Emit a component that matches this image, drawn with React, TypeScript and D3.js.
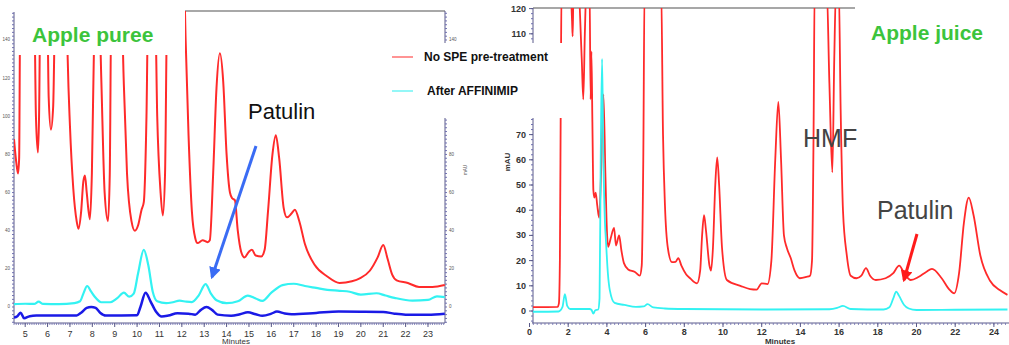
import React from "react";
import * as d3 from "d3";

type P = [number, number];

// Apple puree chromatogram (minutes, mAU)
const pureeRed: P[] = [[4.5,88],[4.6,76],[4.68,70],[4.73,78],[4.78,160],[5.4,160],[5.48,100],[5.57,81],[5.62,100],[5.68,160],[5.98,160],[6.05,110],[6.15,93],[6.25,105],[6.35,160],[6.85,160],[6.9,130],[7.0,95],[7.15,62],[7.3,45],[7.38,41],[7.5,50],[7.6,66],[7.67,69],[7.75,60],[7.89,46],[7.98,70],[8.08,140],[8.15,160],[8.3,160],[8.4,120],[8.55,60],[8.7,45],[8.78,70],[8.85,160],[9.3,160],[9.4,120],[9.55,70],[9.75,45],[9.9,40],[10.05,43],[10.2,51],[10.3,55],[10.42,100],[10.5,160],[10.8,160],[10.9,100],[11.05,60],[11.15,48],[11.25,70],[11.35,160],[12.1,170],[12.17,140],[12.3,90],[12.45,50],[12.6,36],[12.7,33.5],[12.93,35],[13.15,34],[13.25,35],[13.4,70],[13.55,115],[13.7,133],[13.85,118],[14.0,80],[14.15,60],[14.25,57],[14.37,56],[14.5,40],[14.65,29],[14.8,26],[15.0,29],[15.13,30],[15.3,27],[15.55,26.5],[15.7,30],[15.85,50],[16.05,80],[16.2,90],[16.35,78],[16.55,52],[16.7,47],[16.9,49],[17.05,51],[17.25,45],[17.5,33],[17.94,22],[18.5,16],[19.05,12.6],[19.6,13.5],[19.95,15],[20.4,19],[20.75,26],[21.0,32.5],[21.2,25],[21.4,17],[21.6,14],[22.1,12.6],[22.6,10.5],[23.2,10.5],[23.75,11.5]];
const pureeCyan: P[] = [[4.5,1.5],[5.0,1.7],[5.4,1.6],[5.6,2.8],[5.8,1.6],[6.5,1.5],[7.2,2],[7.45,3],[7.6,7],[7.77,11],[7.95,8],[8.1,5.5],[8.4,2.5],[8.8,2.5],[9.1,4.5],[9.41,7.5],[9.65,5.4],[9.85,7],[10.05,18],[10.3,30],[10.5,22],[10.7,8],[10.9,3],[11.3,2],[11.6,2.5],[11.9,3.3],[12.2,2.8],[12.45,2.6],[12.75,6],[13.06,12],[13.3,7],[13.55,3.5],[14.0,2],[14.5,3],[14.95,6],[15.3,4.5],[15.6,3.2],[16.0,7.5],[16.5,11.5],[17.0,12.2],[17.5,11],[18.0,10],[18.5,9],[19.05,8.5],[19.5,8],[20.0,6.5],[20.7,7.2],[21.1,6],[21.5,4.8],[22.3,3.3],[23.0,3.7],[23.4,5.6],[23.75,5.2]];
const pureeBlue: P[] = [[4.5,-5.6],[4.65,-4.8],[4.8,-3],[4.95,-5.9],[5.2,-4.8],[5.5,-4.5],[7.3,-4.4],[7.5,-3],[7.75,-0.5],[7.95,0],[8.15,-0.5],[8.35,-3],[8.6,-4.5],[10.0,-4.3],[10.15,0],[10.38,7.5],[10.6,3],[10.85,-2.5],[11.1,-5],[11.4,-4.5],[11.8,-3.3],[12.3,-3.5],[12.6,-4],[12.85,-1.5],[13.1,0],[13.35,-1.5],[13.6,-4],[14.2,-4.6],[14.6,-3.8],[14.95,-2.8],[15.3,-3.8],[15.6,-4.6],[16.0,-3.5],[16.25,-2.4],[16.6,-3.4],[16.9,-3.8],[18.0,-3.1],[19.0,-2.4],[20.0,-2.5],[21.0,-2.6],[21.5,-3.5],[22.0,-4],[23.0,-4],[23.75,-3.5]];

// Apple juice chromatogram (minutes, mAU)
const juiceRed: P[] = [[0.15,1.5],[1.45,1.6],[1.52,3],[1.57,20],[1.62,90],[1.66,130],[2.1,130],[2.2,115],[2.23,109],[2.27,125],[2.5,130],[2.7,100],[2.78,84],[2.86,110],[2.95,130],[3.1,130],[3.16,84],[3.2,103],[3.25,75],[3.3,48],[3.35,45],[3.42,47],[3.5,42],[3.6,37],[3.7,55],[3.82,86],[3.92,55],[4.0,32],[4.07,25.5],[4.2,29],[4.37,33],[4.47,26],[4.63,30],[4.75,24],[4.88,19],[5.1,16.5],[5.45,15.5],[5.7,14],[5.8,18],[5.88,60],[5.95,130],[6.8,130],[6.9,70],[7.0,42],[7.15,25],[7.36,19.4],[7.55,19.5],[7.69,21],[7.85,18],[8.1,14.5],[8.3,13],[8.66,11],[8.82,16],[8.92,30],[9.02,38],[9.12,32],[9.3,18],[9.38,16],[9.48,25],[9.6,50],[9.7,61],[9.8,50],[9.95,25],[10.2,12.3],[10.9,10],[11.4,8.7],[11.74,8.5],[12.0,11],[12.3,10.7],[12.5,20],[12.7,60],[12.86,83],[13.0,60],[13.15,30],[13.3,25],[13.5,21],[13.7,16],[13.97,13],[14.3,13.5],[14.5,14],[14.6,20],[14.68,70],[14.74,130],[15.35,130],[15.5,90],[15.65,55],[15.75,100],[15.85,130],[15.98,130],[16.08,80],[16.2,40],[16.4,22],[16.6,14],[16.9,13],[17.15,14],[17.39,17],[17.6,14],[17.9,12.3],[18.4,13],[18.8,15],[19.1,18],[19.4,14.5],[19.7,12.3],[20.1,13.5],[20.5,15.5],[20.8,16.7],[21.3,13],[21.7,8.5],[21.95,7],[22.2,15],[22.45,35],[22.7,45],[22.95,38],[23.3,22],[23.8,12],[24.3,8.3],[24.7,6.4]];
const juiceCyan: P[] = [[0.15,-0.3],[1.5,-0.2],[1.7,1.5],[1.83,6.7],[1.95,2],[2.1,0.8],[3.1,0.8],[3.2,0.5],[3.3,-1],[3.4,0.3],[3.55,0.6],[3.62,5],[3.68,60],[3.75,100],[3.82,60],[3.9,35],[3.95,28],[4.05,15],[4.15,8.3],[4.4,3.2],[4.9,2.4],[5.5,1.6],[5.9,1.8],[6.1,2.7],[6.4,1.4],[7,1],[8,0.8],[12,0.6],[15.5,0.7],[15.9,1.2],[16.2,2],[16.6,0.8],[18.3,0.6],[18.6,1.5],[18.8,5],[18.95,7.7],[19.1,6],[19.35,2.5],[19.6,1],[20,0.4],[22,0.5],[24.7,0.6]];

const pureeXTicks = d3.range(5, 24, 1);
const pureeYTicks = [0, 20, 40, 60, 80, 100, 120, 140];
const juiceXTicks = d3.range(0, 25, 2);
const juiceYTicks = [0, 10, 20, 30, 40, 50, 60, 70, 110, 120];

const legendItems = [
  { label: "No SPE pre-treatment", color: "#ff7070" },
  { label: "After AFFINIMIP", color: "#70f4f4" },
];

const xL = d3.scaleLinear().domain([4.5, 23.76]).range([14, 445]);
const yL = d3.scaleLinear().domain([-8.39, 155.2]).range([323, 11]);
const xR = d3.scaleLinear().domain([0, 24]).range([529.5, 993.9]);
const yR = d3.scaleLinear().domain([0, 120]).range([311, 8.6]);

const FONT = "'Liberation Sans', Arial, sans-serif";
const AX = "#5a5a8a";

function mk(x: d3.ScaleLinear<number, number>, y: d3.ScaleLinear<number, number>) {
  return d3.line<P>().x((d) => x(d[0])).y((d) => y(d[1])).curve(d3.curveMonotoneX);
}

export default function App() {
  const lineL = mk(xL, yL);
  const lineR = mk(xR, yR);

  const minorLY = d3.range(-8, 156, 2);
  const minorLX = d3.range(4.5, 23.76, 0.1);
  const minorRY = d3.range(-4, 121, 2);
  const minorRX = d3.range(0.2, 24.7, 0.2);

  return (
    <svg width={1009} height={345} style={{ position: "absolute", left: 0, top: 0, background: "#fff" }}>
      <defs>
        <clipPath id="clipL">
          <rect x={14} y={55} width={171} height={268} />
          <rect x={185} y={11} width={260} height={312} />
        </clipPath>
        <clipPath id="clipR">
          <rect x={533} y={8} width={476} height={315} />
        </clipPath>
        <marker id="ahBlue" viewBox="0 0 10 10" refX={8} refY={5} markerWidth={4} markerHeight={4} orient="auto">
          <path d="M0,0L10,5L0,10Z" fill="#3a6cf4" />
        </marker>
        <marker id="ahRed" viewBox="0 0 10 10" refX={8} refY={5} markerWidth={4} markerHeight={4} orient="auto">
          <path d="M0,0L10,5L0,10Z" fill="#ff1a1a" />
        </marker>
      </defs>

      {/* ---------- Left chart: Apple puree ---------- */}
      <line x1={185} x2={445} y1={11} y2={11} stroke="#a8a8a8" strokeWidth={2} />
      <line x1={14} x2={14} y1={12} y2={323} stroke={AX} strokeWidth={1} />
      {minorLY.map((v) => (
        <line key={"mly" + v} x1={12} x2={14} y1={yL(v)} y2={yL(v)} stroke="#7070b0" strokeWidth={1} />
      ))}
      {pureeYTicks.map((v) => (
        <text key={"ly" + v} x={10} y={yL(v) + 1.5} fontSize={4.5} fill="#555" textAnchor="end" fontFamily={FONT}>{v}</text>
      ))}
      <line x1={445} x2={445} y1={11} y2={323} stroke={AX} strokeWidth={1} />
      {minorLY.map((v) => (
        <line key={"mry" + v} x1={445} x2={447} y1={yL(v)} y2={yL(v)} stroke="#7070b0" strokeWidth={1} />
      ))}
      {pureeYTicks.map((v) => (
        <text key={"ry" + v} x={449} y={yL(v) + 1.5} fontSize={4.5} fill="#555" fontFamily={FONT}>{v}</text>
      ))}
      <text transform="translate(467,170) rotate(-90)" fontSize={4.5} fill="#555" textAnchor="middle" fontFamily={FONT}>mAU</text>
      <line x1={14} x2={445} y1={323} y2={323} stroke={AX} strokeWidth={1} />
      {minorLX.map((v, i) => (
        <line key={"mlx" + i} x1={xL(v)} x2={xL(v)} y1={323} y2={325} stroke="#7070b0" strokeWidth={0.8} />
      ))}
      {pureeXTicks.map((v) => (
        <g key={"lx" + v}>
          <line x1={xL(v)} x2={xL(v)} y1={323} y2={327} stroke={AX} />
          <text x={xL(v)} y={337} fontSize={9} fill="#333" textAnchor="middle" fontFamily={FONT}>{v}</text>
        </g>
      ))}
      <text x={236} y={344} fontSize={8} fill="#333" textAnchor="middle" fontFamily={FONT}>Minutes</text>

      <g clipPath="url(#clipL)" fill="none">
        <path d={lineL(pureeRed) || ""} stroke="#ff2a2a" strokeWidth={2} />
        <path d={lineL(pureeCyan) || ""} stroke="#33f2f2" strokeWidth={2.2} />
        <path d={lineL(pureeBlue) || ""} stroke="#1a1ae6" strokeWidth={2.5} />
      </g>

      {/* ---------- Right chart: Apple juice ---------- */}
      <line x1={533} x2={855} y1={8} y2={8} stroke="#8a8a8a" strokeWidth={1.5} />
      <line x1={533} x2={533} y1={8} y2={323} stroke={AX} strokeWidth={1} />
      {minorRY.map((v) => (
        <line key={"mry2" + v} x1={531} x2={533} y1={yR(v)} y2={yR(v)} stroke="#7070b0" strokeWidth={1} />
      ))}
      {juiceYTicks.map((v) => (
        <g key={"ryt" + v}>
          <line x1={529} x2={533} y1={yR(v)} y2={yR(v)} stroke={AX} />
          <text x={526} y={yR(v) + 3} fontSize={9} fontWeight="bold" fill="#333" textAnchor="end" fontFamily={FONT}>{v}</text>
        </g>
      ))}
      <text transform="translate(510,162) rotate(-90)" fontSize={8} fontWeight="bold" fill="#333" textAnchor="middle" fontFamily={FONT}>mAU</text>
      <line x1={532} x2={1009} y1={323} y2={323} stroke={AX} strokeWidth={1} />
      {minorRX.map((v, i) => (
        <line key={"mrx" + i} x1={xR(v)} x2={xR(v)} y1={323} y2={325} stroke="#7070b0" strokeWidth={0.8} />
      ))}
      {juiceXTicks.map((v) => (
        <g key={"rxt" + v}>
          <line x1={xR(v)} x2={xR(v)} y1={323} y2={327} stroke={AX} />
          <text x={xR(v)} y={335} fontSize={9} fontWeight="bold" fill="#333" textAnchor="middle" fontFamily={FONT}>{v}</text>
        </g>
      ))}
      <text x={780} y={344} fontSize={8} fontWeight="bold" fill="#333" textAnchor="middle" fontFamily={FONT}>Minutes</text>

      <g clipPath="url(#clipR)" fill="none">
        <path d={lineR(juiceRed) || ""} stroke="#ff2a2a" strokeWidth={1.8} />
        <path d={lineR(juiceCyan) || ""} stroke="#33f2f2" strokeWidth={1.8} />
      </g>

      {/* ---------- Legend (overlay box) ---------- */}
      <rect x={378} y={43} width={199} height={75} fill="#fff" />
      {legendItems.map((it, i) => (
        <g key={it.label}>
          <line x1={392} x2={413} y1={57 + i * 34} y2={57 + i * 34} stroke={it.color} strokeWidth={1.5} />
          <text x={424 + i * 3} y={61 + i * 34} fontSize={12} fontWeight="bold" fill="#111" fontFamily={FONT}>{it.label}</text>
        </g>
      ))}

      {/* ---------- Annotations ---------- */}
      <text x={32} y={42} fontSize={21} fontWeight="bold" fill="#3cc43c" fontFamily={FONT}>Apple puree</text>
      <text x={871} y={40} fontSize={21} fontWeight="bold" fill="#3cc43c" fontFamily={FONT}>Apple juice</text>
      <text x={248} y={119} fontSize={22} fill="#111" fontFamily={FONT}>Patulin</text>
      <line x1={256} y1={146} x2={212} y2={277} stroke="#3a6cf4" strokeWidth={3} markerEnd="url(#ahBlue)" />
      <text x={803} y={147} fontSize={25} fill="#444" fontFamily={FONT}>HMF</text>
      <text x={877} y={219} fontSize={25} fill="#444" fontFamily={FONT}>Patulin</text>
      <line x1={917} y1={234} x2={904} y2={280} stroke="#ff1a1a" strokeWidth={3} markerEnd="url(#ahRed)" />
    </svg>
  );
}
